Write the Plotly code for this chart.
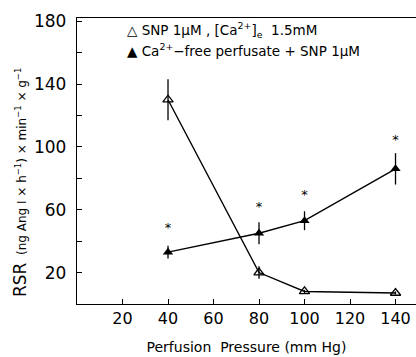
import plotly.graph_objects as go

pressure = [40, 80, 100, 140]
snp_ca = [130, 20, 8, 7]
snp_ca_err = [13, 4, 1, 1]
ca_free = [33, 45, 53, 86]
ca_free_err = [4, 7, 6, 10]
star_y = [48, 61, 69, 104]
star_text = ["*", "*", "*", "*"]

y_tickvals = [20, 40, 60, 80, 100, 120, 140, 160, 180]
y_ticktext = ["20", "", "60", "", "100", "", "140", "", "180"]
x_tickvals = [20, 40, 60, 80, 100, 120, 140]
x_ticktext = ["20", "40", "60", "80", "100", "120", "140"]

font = "DejaVu Sans"

fig = go.Figure()
fig.add_trace(go.Scatter(
    x=pressure, y=snp_ca, mode="lines+markers",
    line=dict(color="black", width=1.4),
    marker=dict(symbol="triangle-up-open", size=9, color="black", line=dict(width=1.3, color="black")),
    error_y=dict(type="data", array=snp_ca_err, color="black", thickness=1.3, width=0),
    showlegend=False))
fig.add_trace(go.Scatter(
    x=pressure, y=ca_free, mode="lines+markers",
    line=dict(color="black", width=1.4),
    marker=dict(symbol="triangle-up", size=9, color="black"),
    error_y=dict(type="data", array=ca_free_err, color="black", thickness=1.3, width=0),
    showlegend=False))
fig.add_trace(go.Scatter(
    x=pressure, y=star_y, mode="text", text=star_text,
    textfont=dict(family=font, size=13, color="black"), showlegend=False))

fig.add_annotation(xref="paper", yref="paper", x=(125 - 77) / 339, y=(304 - 30) / 286,
                   xanchor="left", yanchor="middle", showarrow=False,
                   text="△ SNP 1µM , [Ca<sup>2+</sup>]<sub>e</sub>  1.5mM",
                   font=dict(family=font, size=13.5, color="black"))
fig.add_annotation(xref="paper", yref="paper", x=(125 - 77) / 339, y=(304 - 50) / 286,
                   xanchor="left", yanchor="middle", showarrow=False,
                   text="▲ Ca<sup>2+</sup>−free perfusate + SNP 1µM",
                   font=dict(family=font, size=13.5, color="black"))
fig.add_annotation(xref="paper", yref="paper", x=(20 - 77) / 339, y=(304 - 183) / 286,
                   xanchor="center", yanchor="middle", showarrow=False, textangle=-90,
                   text="<span style='font-size:17px'>RSR</span>  (ng Ang I × h<sup>−1</sup>) × min<sup>−1</sup> × g<sup>−1</sup>",
                   font=dict(family=font, size=12, color="black"))

fig.update_layout(
    width=416, height=357,
    margin=dict(l=77, r=0, t=18, b=53),
    paper_bgcolor="white", plot_bgcolor="white",
    font=dict(family=font, color="black"),
    xaxis=dict(range=[0, 149], tickvals=x_tickvals, ticktext=x_ticktext, automargin=False,
               ticks="inside", ticklen=5, tickcolor="black", showgrid=False, zeroline=False,
               showline=True, linecolor="black", linewidth=1.3, mirror=True,
               tickfont=dict(size=16, family=font),
               title=dict(text="Perfusion  Pressure (mm Hg)", font=dict(size=14, family=font), standoff=14)),
    yaxis=dict(range=[0, 182], tickvals=y_tickvals, ticktext=y_ticktext, automargin=False,
               ticks="inside", ticklen=5, tickcolor="black", showgrid=False, zeroline=False,
               showline=True, linecolor="black", linewidth=1.3, ticklabelstandoff=6,
               tickfont=dict(size=17, family=font)),
)

fig.write_html("out.html", config={"displayModeBar": False},
               post_script="document.body.style.margin='0';document.body.style.overflow='hidden';")
